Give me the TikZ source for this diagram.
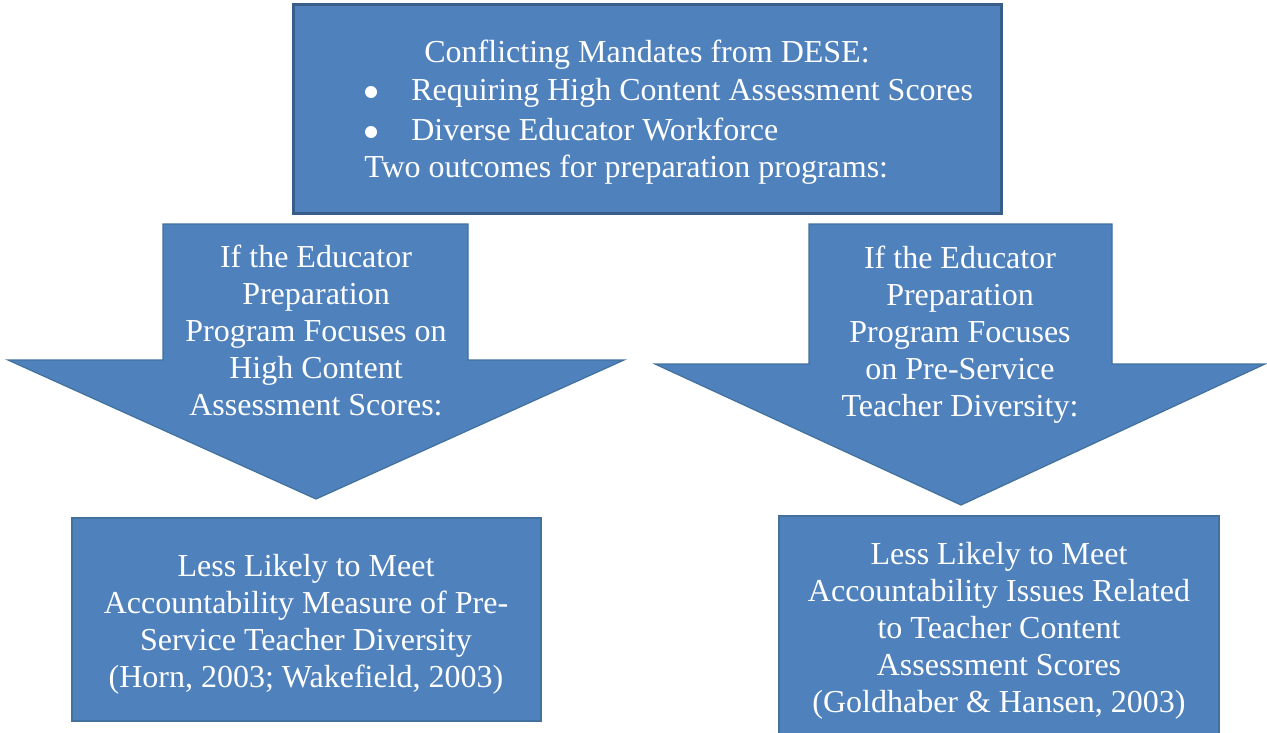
\documentclass[tikz,border=0pt]{standalone}
\usepackage{fontspec}
\setmainfont{Liberation Serif}
\definecolor{boxfill}{HTML}{4F81BD}
\definecolor{boxline}{HTML}{41719C}
\definecolor{topline}{HTML}{385D8A}
\begin{document}
\begin{tikzpicture}[x=0.75pt,y=-0.75pt,
  shapefill/.style={fill=boxfill,draw=boxline,line width=0.9pt,line join=miter},
  toptext/.style={text=white,font=\fontsize{24}{29}\selectfont,inner sep=0pt},
  bulletdot/.style={circle,fill=white,inner sep=0pt,minimum size=9pt},
  bodytext/.style={text=white,align=center,font=\fontsize{24}{27.75}\selectfont,inner sep=0pt}]
\useasboundingbox (0,0) rectangle (1267,732);
% top box
\draw[fill=boxfill,draw=topline,line width=2.25pt] (293.5,4.5) rectangle (1001.5,213.5);
\node[toptext,anchor=base] (t1) at (647,62) {Conflicting Mandates from DESE:};
\node[bulletdot] (b1) at (371,92) {};
\node[toptext,anchor=base west] (t2) at (411,100) {Requiring High Content Assessment Scores};
\node[bulletdot] (b2) at (371,132) {};
\node[toptext,anchor=base west] (t3) at (411,140) {Diverse Educator Workforce};
\node[toptext,anchor=base west] (t4) at (364,177) {Two outcomes for preparation programs:};
% left arrow
\draw[shapefill] (163,224) -- (468,224) -- (468,360) -- (624,360) -- (316,499) -- (8,360) -- (163,360) -- cycle;
\node[bodytext] (la) at (316,330) {If the Educator\\Preparation\\Program Focuses on\\High Content\\Assessment Scores:};
% right arrow
\draw[shapefill] (809,224) -- (1112,224) -- (1112,364) -- (1265,364) -- (961,505) -- (655,364) -- (809,364) -- cycle;
\node[bodytext] (ra) at (960,335) {If the Educator\\Preparation\\Program Focuses\\on Pre-Service\\Teacher Diversity:};
% bottom boxes
\draw[shapefill] (72,518) rectangle (541,721);
\node[bodytext] (lb) at (306,624) {Less Likely to Meet\\Accountability Measure of Pre-\\Service Teacher Diversity\\(Horn, 2003; Wakefield, 2003)};
\draw[shapefill] (779,516) rectangle (1219,745);
\node[bodytext] (rb) at (999,631) {Less Likely to Meet\\Accountability Issues Related\\to Teacher Content\\Assessment Scores\\(Goldhaber \& Hansen, 2003)};
\end{tikzpicture}
\end{document}
